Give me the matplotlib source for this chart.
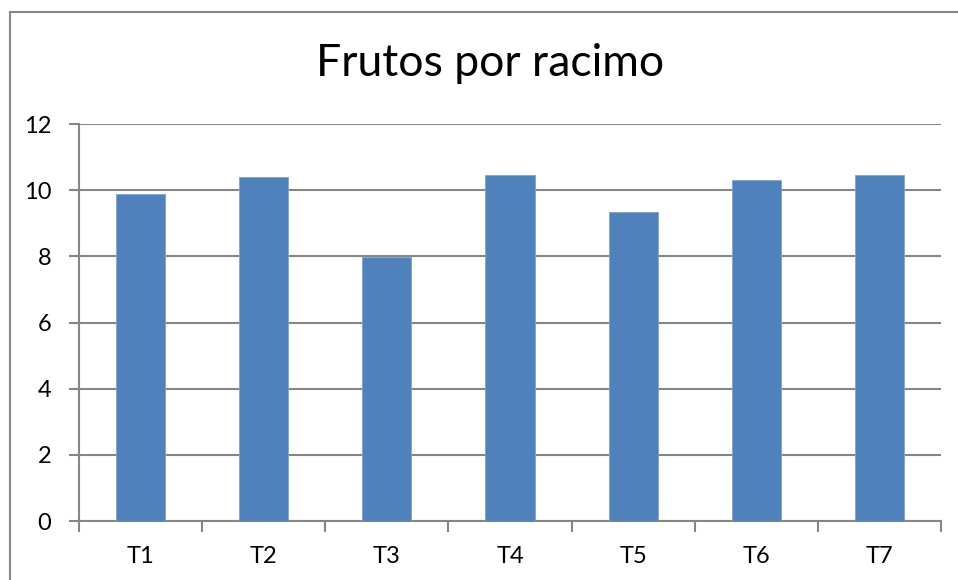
import matplotlib
matplotlib.use("Agg")
import matplotlib.pyplot as plt
from matplotlib.lines import Line2D
import numpy as np

categories = ["T1", "T2", "T3", "T4", "T5", "T6", "T7"]
values = [9.88, 10.40, 7.98, 10.46, 9.34, 10.31, 10.46]
yticks = [0, 2, 4, 6, 8, 10, 12]
title = "Frutos por racimo"

plt.rcParams['font.family'] = ['Lato', 'DejaVu Sans']

W, H = 958, 580
fig = plt.figure(figsize=(W / 100, H / 100), dpi=100)
ax = fig.add_axes([79 / W, 1 - 521 / H, (941 - 79) / W, (521 - 124) / H])

grid_c = "#868686"
x = np.arange(len(categories))
ax.bar(x, values, width=0.4, color="#4F81BD", edgecolor="#7EA3D2", linewidth=0.6, zorder=3)

ax.set_xlim(-0.5, len(categories) - 0.5)
ax.set_ylim(0, 12)
ax.set_yticks(yticks)
ax.set_yticklabels([str(v) for v in yticks], fontsize=17)
ax.yaxis.grid(True, color=grid_c, linewidth=1.5, zorder=0)
ax.tick_params(axis='y', length=7, width=1.5, color=grid_c, pad=13)

ax.set_xticks(x)
ax.set_xticklabels(categories, fontsize=17)
ax.tick_params(axis='x', which='major', length=0, pad=18)
ax.set_xticks(np.arange(-0.5, len(categories), 1.0), minor=True)
ax.tick_params(axis='x', which='minor', length=8, width=1.5, color=grid_c, direction='out')

for s in ['top', 'right']:
    ax.spines[s].set_visible(False)
for s in ['left', 'bottom']:
    ax.spines[s].set_color(grid_c)
    ax.spines[s].set_linewidth(1.5)

fig.text(490 / W, 1 - 64 / H, title, fontsize=32, ha='center', va='center')

# outer chart frame
fig.add_artist(Line2D([10 / W, 1.0], [1 - 12 / H, 1 - 12 / H], color=grid_c, linewidth=1.5))
fig.add_artist(Line2D([10 / W, 10 / W], [0, 1 - 12 / H], color=grid_c, linewidth=1.5))

fig.savefig("out.png", dpi=100)
